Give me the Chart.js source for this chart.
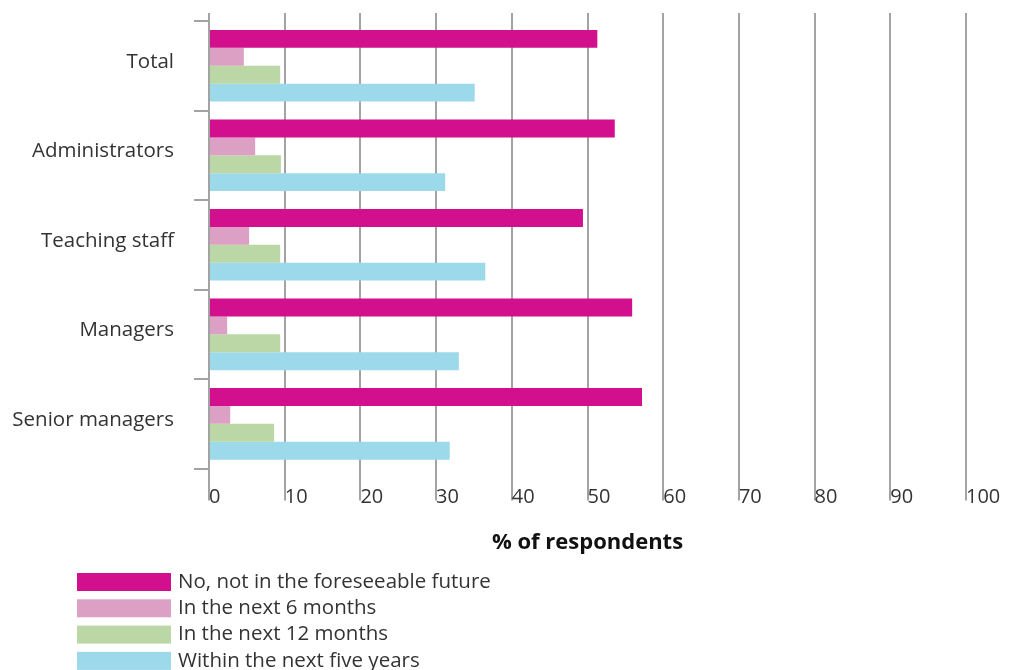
<!DOCTYPE html>
<html>
<head>
<meta charset="utf-8">
<script src="https://cdn.jsdelivr.net/npm/chart.js@4/dist/chart.umd.min.js"></script>
<style>
  html, body { margin: 0; padding: 0; background: #fff; }
  #wrap { width: 1013px; height: 670px; }
</style>
</head>
<body>
<div id="wrap"><canvas id="barChart"></canvas></div>
<script>
var groups = ['Total', 'Administrators', 'Teaching staff', 'Managers', 'Senior managers'];
var notForeseeable = [51.3, 53.6, 49.4, 55.9, 57.2];
var next6Months = [4.6, 6.1, 5.3, 2.4, 2.8];
var next12Months = [9.4, 9.5, 9.4, 9.4, 8.6];
var nextFiveYears = [35.1, 31.2, 36.5, 33.0, 31.8];
var xTicks = [0, 10, 20, 30, 40, 50, 60, 70, 80, 90, 100];

var gridGrey = '#a3a3a3';
var textGrey = '#333333';
var fontName = "'Open Sans', sans-serif";

// legend drawn as a vertical list of long swatches under the axis title
var listLegend = {
    id: 'listLegend',
    afterDraw: function (chart) {
        var ctx = chart.ctx;
        ctx.save();
        ctx.font = '20.5px ' + fontName;
        ctx.textBaseline = 'middle';
        chart.data.datasets.forEach(function (ds, i) {
            var top = 573 + i * 26.3;
            ctx.fillStyle = ds.backgroundColor;
            ctx.fillRect(77, top, 94, 18);
            ctx.fillStyle = textGrey;
            ctx.fillText(ds.label, 178, top + 9);
        });
        ctx.restore();
    }
};

var ctx = document.getElementById('barChart');
var myBarChart = new Chart(ctx, {
    type: 'bar',
    data: {
        labels: groups,
        datasets: [
            { label: 'No, not in the foreseeable future', data: notForeseeable, backgroundColor: '#d20f8c' },
            { label: 'In the next 6 months', data: next6Months, backgroundColor: '#dba0c3' },
            { label: 'In the next 12 months', data: next12Months, backgroundColor: '#bad7a5' },
            { label: 'Within the next five years', data: nextFiveYears, backgroundColor: '#9cd9ea' }
        ]
    },
    options: {
        indexAxis: 'y',
        responsive: true,
        maintainAspectRatio: false,
        animation: false,
        events: [],
        layout: { padding: { top: 13, right: 47, bottom: 106, left: 0 } },
        datasets: {
            bar: { categoryPercentage: 0.8, barPercentage: 1.0 }
        },
        scales: {
            x: {
                position: 'bottom',
                min: 0,
                max: 100,
                afterBuildTicks: function (scale) {
                    scale.ticks = xTicks.map(function (v) { return { value: v }; });
                },
                grid: { color: gridGrey, lineWidth: 2, tickLength: 32, tickColor: gridGrey },
                border: { display: false },
                ticks: {
                    align: 'start',
                    padding: -15,
                    color: textGrey,
                    font: { family: fontName, size: 20 }
                },
                title: {
                    display: true,
                    text: '% of respondents',
                    color: '#111',
                    font: { family: fontName, size: 22, weight: 'bold' },
                    padding: { top: 35, bottom: 8 }
                }
            },
            xTop: {
                position: 'top',
                axis: 'x',
                min: 0,
                max: 100,
                afterBuildTicks: function (scale) {
                    scale.ticks = xTicks.map(function (v) { return { value: v }; });
                },
                grid: { drawOnChartArea: false, color: gridGrey, lineWidth: 2, tickLength: 8 },
                border: { display: false },
                ticks: { display: false }
            },
            y: {
                offset: true,
                grid: { drawOnChartArea: false, color: gridGrey, lineWidth: 2, tickLength: 15, offset: true },
                border: { display: true, color: gridGrey, width: 2 },
                ticks: {
                    padding: 20,
                    labelOffset: -4,
                    color: textGrey,
                    font: { family: fontName, size: 20.5 }
                },
                afterFit: function (scale) {
                    scale.width = 209;
                    scale.paddingTop = 0;
                    scale.paddingBottom = 0;
                }
            }
        },
        plugins: {
            legend: { display: false },
            tooltip: { enabled: false }
        }
    },
    plugins: [listLegend]
});
</script>
</body>
</html>
